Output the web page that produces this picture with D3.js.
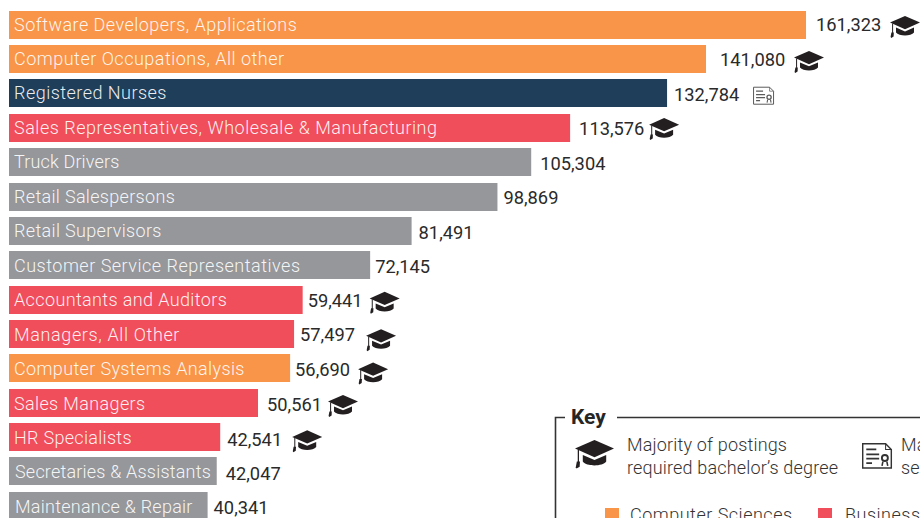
<!DOCTYPE html>
<html><head><meta charset="utf-8">
<script src="https://cdnjs.cloudflare.com/ajax/libs/d3/7.8.5/d3.min.js"></script>
<style>html,body{margin:0;padding:0;background:#fff;overflow:hidden}svg{display:block}</style>
</head><body><svg id="c" width="920" height="518"></svg>
<script>
const occupations=["Software Developers, Applications","Computer Occupations, All other","Registered Nurses","Sales Representatives, Wholesale & Manufacturing","Truck Drivers","Retail Salespersons","Retail Supervisors","Customer Service Representatives","Accountants and Auditors","Managers, All Other","Computer Systems Analysis","Sales Managers","HR Specialists","Secretaries & Assistants","Maintenance & Repair"];
const postings=[161323,141080,132784,113576,105304,98869,81491,72145,59441,57497,56690,50561,42541,42047,40341];
// Bar lengths as drawn in the picture, in the same units (a few differ slightly from the printed number).
const drawnLengths=[161323,141080,133200,113576,105700,98869,81491,73100,59441,57700,56900,50400,42750,42047,40200];
const sectors=["cs","cs","health","biz","other","other","other","other","biz","biz","cs","biz","biz","other","other"];
const credentials=["cap","cap","cert","cap","","","","","cap","cap","cap","cap","cap","",""];
const sectorNames=["cs","biz","health","other"];
const sectorColors=["#f99549","#f14e5c","#1f3e5a","#96979b"];
// Layout nudges per row
const labelGaps=[10,14,7,9,9,6,7,5,5,6,5,9,7,9,6];
const valueDy=[6,6.8,7.6,6.6,7.4,7,7.4,7.5,7,7.2,7.4,8,8.4,8.3,8];
const iconDx=[84,88,86,79,0,0,0,0,67,72,68,70,72,0,0];
const iconDy=[2,2.6,2,1,0,0,0,0,3,6,5,3,4,0,0];
const labelInset=[5,5,5,5,5,5,5,5,5,5,5,5,5,6,6];
const labelDy=[0,0,0,0,0,0,0,0.8,0.6,1,1,1,1,1,1];
const labelTrack=[0.47,0.5,0.47,0.52,0.15,0.32,0.33,0.5,0.37,0.63,0.36,0.36,0.3,0.2,0.25];

const svg=d3.select("#c");
const color=d3.scaleOrdinal(sectorNames,sectorColors);
const x=d3.scaleLinear().domain([0,161323]).range([9,806]);
const y=d3.scaleBand().domain(occupations).range([11,520]).paddingInner(0.185).paddingOuter(0);
const by=d=>Math.floor(y(d)+0.25);
const money=d3.format(",");
const font='Roboto, sans-serif';
const ink="#231f20";

function cap(g,s){
  const n=g.append("g").attr("transform",`scale(${s})`).attr("fill",ink);
  n.append("path").attr("d","M15 0 L30 6.6 L15 13.2 L0 6.6 Z");
  n.append("path").attr("d","M6 11.6 L15 15.4 L24 11.6 L24 16.6 C21 20.6 9 20.6 6 16.6 Z");
  n.append("path").attr("d","M2.6 7.5 L2.6 17").attr("stroke",ink).attr("stroke-width",1).attr("fill","none");
  n.append("path").attr("d","M1.4 16.5 L3.8 16.5 L3.6 20.5 L1.2 22 L0.6 21 Z");
}
function cert(g,s,col){
  const n=g.append("g").attr("transform",`scale(${s})`).attr("fill","none").attr("stroke",col).attr("stroke-width",1);
  n.append("path").attr("d","M0.5 0.5 H16.5 L20.5 4.5 V17.5 H0.5 Z");
  n.append("path").attr("d","M16.5 0.5 V4.5 H20.5").attr("stroke-width",0.7);
  n.append("path").attr("d","M3 4.5 H10 M3 8 H12 M3 11 H12 M3 14 H7").attr("stroke-width",1.2);
  n.append("circle").attr("cx",16).attr("cy",10.5).attr("r",2.1).attr("stroke-width",1.3);
  n.append("path").attr("d","M14.6 13 L14 16 M17.4 13 L18 16").attr("stroke-width",1.1);
}

const rows=svg.append("g").selectAll("g").data(occupations).join("g");
rows.append("rect").attr("x",x(0)).attr("y",by).attr("height",y.bandwidth())
  .attr("width",(d,i)=>x(drawnLengths[i])-x(0)).attr("fill",(d,i)=>color(sectors[i]));
rows.append("text").attr("x",(d,i)=>x(0)+labelInset[i]).attr("y",(d,i)=>by(d)+y.bandwidth()/2+5.8+labelDy[i])
  .attr("letter-spacing",(d,i)=>labelTrack[i])
  .attr("font-family",font).attr("font-weight",300).attr("font-size",18).attr("fill","#fff").attr("fill-opacity",0.92).text(d=>d);
rows.append("text").attr("x",(d,i)=>x(drawnLengths[i])+labelGaps[i]).attr("y",(d,i)=>y(d)+y.bandwidth()/2+valueDy[i])
  .attr("font-family",font).attr("font-size",18.3).attr("fill","#2a2a2a").text((d,i)=>money(postings[i]));
rows.each(function(d,i){
  const g=d3.select(this);
  const ix=x(drawnLengths[i])+iconDx[i], cy=y(d)+y.bandwidth()/2+iconDy[i];
  if(credentials[i]==="cap") cap(g.append("g").attr("transform",`translate(${ix},${cy-11})`),1);
  if(credentials[i]==="cert") cert(g.append("g").attr("transform",`translate(${ix},${cy-9})`),1,"#5b5b5b");
});

// Key
const key=svg.append("g");
key.append("path").attr("d","M565 417.5 H555.5 V518 M617 417.5 H920").attr("fill","none").attr("stroke","#333").attr("stroke-width",1.6);
key.append("text").attr("x",571).attr("y",424).attr("font-family",font).attr("font-weight",700).attr("font-size",21).attr("fill","#262626").text("Key");
cap(key.append("g").attr("transform","translate(575,440)"),1.3);
const keyText=[["Majority of postings",627,451],["required bachelor\u2019s degree",627,474],["Ma",901,451],["se",901,474]];
key.selectAll("text.k").data(keyText).join("text").attr("class","k").attr("x",d=>d[1]).attr("y",d=>d[2])
  .attr("letter-spacing",0.17).attr("font-family",font).attr("font-weight",300).attr("font-size",18).attr("fill","#333").text(d=>d[0]);
cert(key.append("g").attr("transform","translate(862,443)"),1.43,"#333");
const legendItems=[["cs","Computer Sciences",605,630],["biz","Business",818,845]];
key.selectAll("rect.l").data(legendItems).join("rect").attr("class","l").attr("x",d=>d[2]).attr("y",508).attr("width",14).attr("height",14).attr("fill",d=>color(d[0]));
key.selectAll("text.l").data(legendItems).join("text").attr("class","l").attr("x",d=>d[3]).attr("y",521)
  .attr("letter-spacing",0.5).attr("font-family",font).attr("font-weight",300).attr("font-size",18).attr("fill","#333").text(d=>d[1]);
</script></body></html>
